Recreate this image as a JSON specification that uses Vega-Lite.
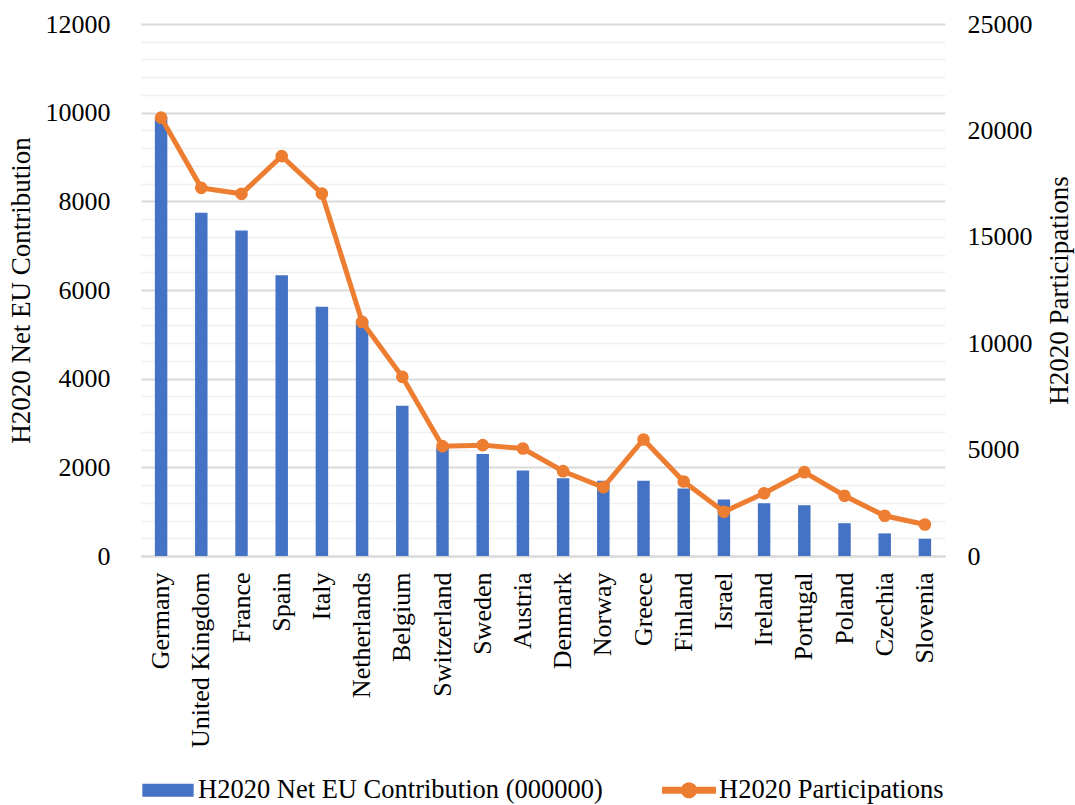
{
  "$schema": "https://vega.github.io/schema/vega-lite/v6.json",
  "width": 804,
  "height": 532,
  "autosize": {"type": "none"},
  "padding": {"left": 141, "top": 24, "right": 130, "bottom": 249},
  "background": "white",
  "config": {
    "font": "Liberation Serif",
    "view": {"stroke": null},
    "axis": {
      "labelFont": "Liberation Serif",
      "titleFont": "Liberation Serif",
      "labelColor": "#000000",
      "titleColor": "#000000",
      "titleFontWeight": "normal",
      "labelFontSize": 26,
      "titleFontSize": 27,
      "ticks": false,
      "domain": false
    }
  },
  "data": {
    "values": [
      {"country": "Germany", "contribution": 9900, "participations": 20600},
      {"country": "United Kingdom", "contribution": 7740, "participations": 17300},
      {"country": "France", "contribution": 7340, "participations": 17020},
      {"country": "Spain", "contribution": 6330, "participations": 18790},
      {"country": "Italy", "contribution": 5620, "participations": 17030},
      {"country": "Netherlands", "contribution": 5300, "participations": 11000},
      {"country": "Belgium", "contribution": 3390, "participations": 8420},
      {"country": "Switzerland", "contribution": 2450, "participations": 5160},
      {"country": "Sweden", "contribution": 2300, "participations": 5210},
      {"country": "Austria", "contribution": 1930, "participations": 5050},
      {"country": "Denmark", "contribution": 1755, "participations": 3985},
      {"country": "Norway", "contribution": 1700, "participations": 3230},
      {"country": "Greece", "contribution": 1700, "participations": 5475},
      {"country": "Finland", "contribution": 1525, "participations": 3500},
      {"country": "Israel", "contribution": 1275, "participations": 2080},
      {"country": "Ireland", "contribution": 1190, "participations": 2950},
      {"country": "Portugal", "contribution": 1145, "participations": 3940},
      {"country": "Poland", "contribution": 740, "participations": 2830},
      {"country": "Czechia", "contribution": 510, "participations": 1890},
      {"country": "Slovenia", "contribution": 390, "participations": 1480}
    ]
  },
  "layer": [
    {
      "mark": {"type": "bar", "width": {"band": 0.31}},
      "encoding": {
        "x": {
          "field": "country",
          "type": "nominal",
          "sort": null,
          "scale": {"paddingInner": 0, "paddingOuter": 0},
          "axis": {
            "title": null,
            "labelAngle": -90,
            "labelPadding": 16,
            "domain": true,
            "domainColor": "#D9D9D9",
            "domainWidth": 2
          }
        },
        "y": {
          "field": "contribution",
          "type": "quantitative",
          "scale": {"domain": [0, 12000], "nice": false},
          "axis": {
            "orient": "left",
            "title": "H2020 Net EU Contribution",
            "values": [0, 400, 800, 1200, 1600, 2000, 2400, 2800, 3200, 3600, 4000, 4400, 4800, 5200, 5600, 6000, 6400, 6800, 7200, 7600, 8000, 8400, 8800, 9200, 9600, 10000, 10400, 10800, 11200, 11600, 12000],
            "format": "d",
            "labelExpr": "datum.value % 2000 === 0 ? datum.label : ''",
            "labelOverlap": false,
            "grid": true,
            "gridColor": {"condition": {"test": "datum.value % 2000 === 0", "value": "#D9D9D9"}, "value": "#F0F0F0"},
            "gridWidth": {"condition": {"test": "datum.value % 2000 === 0", "value": 2}, "value": 1.5},
            "labelPadding": 31,
            "titlePadding": 10
          }
        },
        "color": {
          "datum": "H2020 Net EU Contribution (000000)",
          "type": "nominal",
          "scale": {
            "domain": ["H2020 Net EU Contribution (000000)", "H2020 Participations"],
            "range": ["#4472C4", "#ED7D31"]
          },
          "legend": {
            "orient": "bottom",
            "direction": "horizontal",
            "title": null,
            "labelFont": "Liberation Serif",
            "labelFontSize": 26.5,
            "labelColor": "#000000",
            "labelLimit": 0,
            "symbolSize": 2916,
            "labelOffset": 3,
            "columnPadding": 59,
            "offset": 15,
            "encode": {
              "symbols": {
                "update": {
                  "shape": {"signal": "datum.value === 'H2020 Participations' ? 'M-1,-0.13H1V0.13H-1Z M0.3,0A0.3,0.3 0 1 1 -0.3,0A0.3,0.3 0 1 1 0.3,0Z' : 'M-0.95,-0.24H0.95V0.24H-0.95Z'"},
                  "fill": {"signal": "datum.value === 'H2020 Participations' ? '#ED7D31' : '#4472C4'"},
                  "stroke": {"value": "transparent"},
                  "strokeWidth": {"value": 0},
                  "opacity": {"value": 1}
                }
              }
            }
          }
        }
      }
    },
    {
      "mark": {
        "type": "line",
        "strokeWidth": 5,
        "point": {"filled": true, "size": 160}
      },
      "encoding": {
        "x": {"field": "country", "type": "nominal", "sort": null},
        "y": {
          "field": "participations",
          "type": "quantitative",
          "scale": {"domain": [0, 25000], "nice": false},
          "axis": {
            "orient": "right",
            "title": "H2020 Participations",
            "titleAngle": 270,
            "values": [0, 5000, 10000, 15000, 20000, 25000],
            "format": "d",
            "grid": false,
            "labelPadding": 22,
            "titlePadding": 41
          }
        },
        "color": {"datum": "H2020 Participations", "type": "nominal"}
      }
    }
  ],
  "resolve": {"scale": {"y": "independent"}}
}
